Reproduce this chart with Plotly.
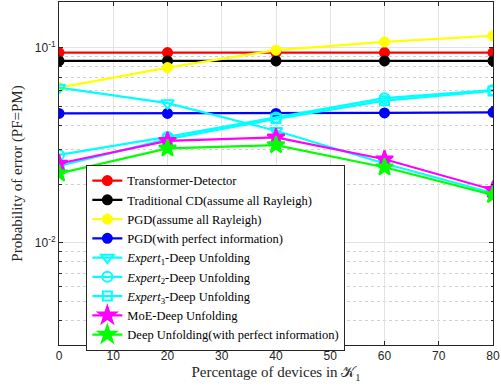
import plotly.graph_objects as go

x_vals = [0, 20, 40, 60, 80]
transformer = [0.0943, 0.0943, 0.0943, 0.0943, 0.0943]
traditional_cd = [0.0855, 0.0855, 0.0855, 0.0855, 0.0855]
pgd_rayleigh = [0.0624, 0.079, 0.097, 0.107, 0.115]
pgd_perfect = [0.046, 0.046, 0.046, 0.0463, 0.0466]
expert1 = [0.0624, 0.052, 0.0375, 0.0255, 0.0180]
expert2 = [0.0282, 0.0349, 0.0439, 0.0551, 0.0606]
expert3 = [0.0248, 0.0340, 0.0432, 0.0535, 0.0600]
moe = [0.0255, 0.0333, 0.0347, 0.0268, 0.0187]
du_perfect = [0.0227, 0.0305, 0.0317, 0.0244, 0.0176]

names = [
    "Transformer-Detector",
    "Traditional CD(assume all Rayleigh)",
    "PGD(assume all Rayleigh)",
    "PGD(with perfect information)",
    "<i>Expert</i><sub>1</sub>-Deep Unfolding",
    "<i>Expert</i><sub>2</sub>-Deep Unfolding",
    "<i>Expert</i><sub>3</sub>-Deep Unfolding",
    "MoE-Deep Unfolding",
    "Deep Unfolding(with perfect information)",
]
series = [transformer, traditional_cd, pgd_rayleigh, pgd_perfect,
          expert1, expert2, expert3, moe, du_perfect]
colors = ["#ff0000", "#000000", "#ffff00", "#0000ff",
          "#00ffff", "#00ffff", "#00ffff", "#ff00ff", "#00ff00"]
symbols = ["circle", "circle", "circle", "circle",
           "triangle-down-open", "circle-open", "square-open", "star", "star"]
sizes = [9, 9, 9, 9, 11, 10, 9, 13, 13]

y_major = [0.01, 0.1]
y_major_text = ["10<sup>-2</sup>", "10<sup>-1</sup>"]
y_minor = [0.004, 0.005, 0.006, 0.007, 0.008, 0.009,
           0.02, 0.03, 0.04, 0.05, 0.06, 0.07, 0.08, 0.09]

fig = go.Figure()
for name, ys, c, s, sz in zip(names, series, colors, symbols, sizes):
    fig.add_trace(go.Scatter(
        x=x_vals, y=ys, name=name, mode="lines+markers",
        line=dict(color=c, width=2.2),
        marker=dict(symbol=s, size=sz, color=c,
                    line=dict(color=c, width=2)),
    ))

axis_common = dict(
    showline=True, linecolor="#262626", linewidth=1, mirror="ticks",
    ticks="inside", ticklen=4, tickcolor="#262626",
    tickfont=dict(family="Liberation Sans, Arial", size=12, color="#262626"),
    gridcolor="#e3e3e3", gridwidth=1, zeroline=False,
)

fig.update_xaxes(
    range=[0, 80], tickvals=[0, 10, 20, 30, 40, 50, 60, 70, 80],
    ticklabeloverflow="allow",
    title=dict(text="Percentage of devices in 𝒦<sub>1</sub>",
               font=dict(family="Liberation Serif, DejaVu Serif", size=15, color="#262626"),
               standoff=4),
    **axis_common,
)
fig.update_yaxes(
    type="log", range=[-2.5229, -0.7664],
    tickvals=y_major, ticktext=y_major_text,
    title=dict(text="Probability of error (PF=PM)",
               font=dict(family="Liberation Serif, DejaVu Serif", size=15, color="#262626"),
               standoff=8),
    minor=dict(tickvals=y_minor, ticks="inside", ticklen=2.5, tickcolor="#262626",
               showgrid=True, gridcolor="#d0d0d0", griddash="dot", gridwidth=1),
    **axis_common,
)

fig.update_layout(
    width=501, height=392,
    margin=dict(l=59, r=5, t=1, b=47),
    plot_bgcolor="white", paper_bgcolor="white",
    showlegend=True,
    legend=dict(
        x=0.063, y=0.525, xanchor="left", yanchor="top",
        bgcolor="white", bordercolor="#262626", borderwidth=1,
        font=dict(family="Liberation Serif, DejaVu Serif", size=12.5, color="#000000"),
        tracegroupgap=0, itemsizing="trace",
    ),
)

fig.write_html("out.html", config={"displayModeBar": False},
               post_script="document.body.style.margin='0';document.body.style.overflow='hidden';")
